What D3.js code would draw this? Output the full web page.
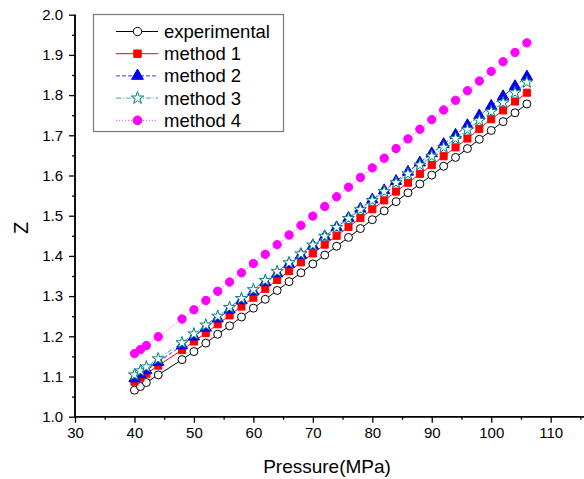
<!DOCTYPE html>
<html><head><meta charset="utf-8">
<script src="https://cdn.jsdelivr.net/npm/d3@7"></script>
<style>body{margin:0;background:#fff}svg{display:block}text{font-family:"Liberation Sans",Arial,sans-serif}</style>
</head><body>
<svg id="c" width="584" height="479"></svg>
<script>
const pressure = [40,41,42,44,48,50,52,54,56,58,60,62,64,66,68,70,72,74,76,78,80,82,84,86,88,90,92,94,96,98,100,102,104,106];
const experimental = [1.066,1.075,1.085,1.104,1.142,1.162,1.183,1.205,1.226,1.248,1.270,1.292,1.314,1.336,1.358,1.380,1.402,1.424,1.446,1.468,1.490,1.512,1.535,1.557,1.579,1.601,1.623,1.645,1.667,1.690,1.712,1.734,1.756,1.778];
const method1 = [1.087,1.097,1.107,1.127,1.166,1.187,1.208,1.230,1.252,1.274,1.296,1.318,1.340,1.362,1.384,1.406,1.428,1.450,1.472,1.494,1.516,1.538,1.560,1.582,1.604,1.626,1.648,1.670,1.692,1.716,1.740,1.762,1.784,1.806];
const method2 = [1.095,1.105,1.115,1.136,1.177,1.199,1.221,1.244,1.266,1.289,1.311,1.334,1.356,1.379,1.402,1.425,1.448,1.471,1.494,1.517,1.540,1.563,1.586,1.609,1.632,1.655,1.678,1.701,1.725,1.749,1.773,1.797,1.822,1.846];
const method3 = [1.104,1.114,1.124,1.144,1.184,1.206,1.228,1.250,1.272,1.294,1.316,1.339,1.361,1.383,1.405,1.427,1.449,1.471,1.493,1.515,1.538,1.560,1.582,1.604,1.626,1.648,1.670,1.692,1.714,1.737,1.759,1.781,1.806,1.832];
const method4 = [1.157,1.167,1.177,1.199,1.243,1.266,1.289,1.312,1.335,1.358,1.381,1.404,1.428,1.452,1.476,1.499,1.523,1.547,1.571,1.595,1.619,1.643,1.667,1.691,1.715,1.739,1.763,1.787,1.811,1.835,1.859,1.883,1.906,1.930];
const seriesNames = ["experimental","method 1","method 2","method 3","method 4"];
const xTicks = [30,40,50,60,70,80,90,100,110];
const yTicks = [1.0,1.1,1.2,1.3,1.4,1.5,1.6,1.7,1.8,1.9,2.0];

const styles = [
  {line:"#000", dash:null, sym:d3.symbolCircle, size:50, fill:"#fff", stroke:"#000"},
  {line:"#ff0000", dash:null, sym:d3.symbolSquare, size:50, fill:"#ff0000", stroke:"#ff0000"},
  {line:"#3333ff", dash:"4,2", sym:d3.symbolTriangle, size:55, fill:"#0000ff", stroke:"#0000cc"},
  {line:"#33aaaa", dash:"5,2,1,2", sym:d3.symbolStar, size:45, fill:"#fff", stroke:"#008080"},
  {line:"#ff33ff", dash:"1,2", sym:d3.symbolCircle, size:55, fill:"#ff00ff", stroke:"#ff00ff"}
];
const data = [experimental, method1, method2, method3, method4];

const svg = d3.select("#c");
const x = d3.scaleLinear().domain([30,115]).range([75,580.4]);
const y = d3.scaleLinear().domain([1,2]).range([416.7,14.7]);

// series
data.forEach((vals,i)=>{
  const st = styles[i];
  const pts = pressure.map((p,j)=>[p,vals[j]]);
  svg.append("path").datum(pts)
    .attr("d", d3.line().x(d=>x(d[0])).y(d=>y(d[1])))
    .attr("fill","none").attr("stroke",st.line).attr("stroke-width",1)
    .attr("stroke-dasharray",st.dash);
  svg.append("g").selectAll("path").data(pts).join("path")
    .attr("transform",d=>`translate(${x(d[0])},${y(d[1])})`)
    .attr("d", d3.symbol().type(st.sym).size(st.size)())
    .attr("fill",st.fill).attr("stroke",st.stroke).attr("stroke-width",1);
});

// axes
const xAxis = svg.append("g").attr("transform",`translate(0,${y(1)})`);
xAxis.call(d3.axisBottom(x).tickValues(d3.range(35,116,10)).tickSize(3).tickFormat(""));
xAxis.call(g=>g.append("g").call(d3.axisBottom(x).tickValues(xTicks).tickSize(6).tickPadding(5).tickFormat(d3.format("d"))));
xAxis.selectAll(".domain").attr("stroke","#000").attr("stroke-width",1.5).attr("d",`M${x(30)},0H584`);
xAxis.selectAll("line").attr("stroke","#000").attr("stroke-width",1.3);
xAxis.selectAll("text").attr("font-size",15).attr("fill","#000").attr("font-family","Liberation Sans, Arial, sans-serif");

const yAxis = svg.append("g").attr("transform",`translate(${x(30)},0)`);
yAxis.call(d3.axisLeft(y).tickValues(d3.range(1.05,2,0.1)).tickSize(3).tickFormat(""));
yAxis.call(g=>g.append("g").call(d3.axisLeft(y).tickValues(yTicks).tickSize(6).tickPadding(6).tickFormat(d3.format(".1f"))));
yAxis.selectAll(".domain").attr("stroke","#000").attr("stroke-width",1.5).attr("d",`M0,${y(1)}V${y(2)}`);
yAxis.selectAll("line").attr("stroke","#000").attr("stroke-width",1.3);
yAxis.selectAll("text").attr("font-size",15).attr("fill","#000").attr("font-family","Liberation Sans, Arial, sans-serif");

// axis titles
svg.append("text").attr("x",327).attr("y",473).attr("text-anchor","middle")
  .attr("font-size",19).text("Pressure(MPa)");
svg.append("text").attr("transform","translate(28,228) rotate(-90)").attr("text-anchor","middle")
  .attr("font-size",20).text("Z");

// legend
const lg = svg.append("g");
lg.append("rect").attr("x",93.5).attr("y",14.5).attr("width",190).attr("height",117)
  .attr("fill","#fff").attr("stroke","#777").attr("stroke-width",1.2);
seriesNames.forEach((name,i)=>{
  const st = styles[i];
  const cy = 31.5 + i*22.2;
  lg.append("line").attr("x1",116).attr("x2",158).attr("y1",cy).attr("y2",cy)
    .attr("stroke",st.line).attr("stroke-width",1).attr("stroke-dasharray",st.dash);
  lg.append("path").attr("transform",`translate(137.5,${cy})`)
    .attr("d", d3.symbol().type(st.sym).size(st.size*1.1)())
    .attr("fill",st.fill).attr("stroke",st.stroke);
  lg.append("text").attr("x",164).attr("y",cy+6.5).attr("font-size",18.5).text(name);
});
</script>
</body></html>
